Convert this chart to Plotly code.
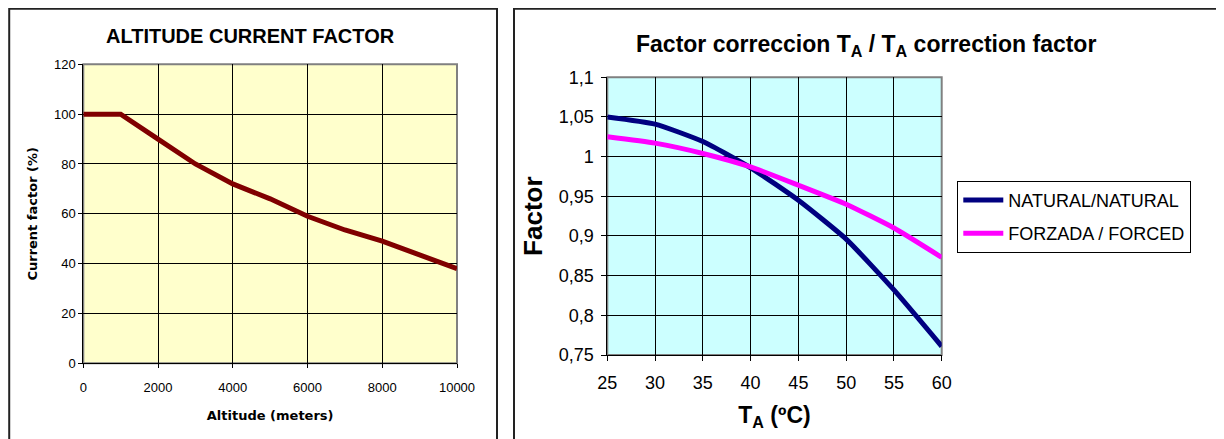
import plotly.graph_objects as go

# ---- data ----
altitude_m = [0, 1000, 2000, 3000, 4000, 5000, 6000, 7000, 8000, 9000, 10000]
current_factor_pct = [100, 100, 90, 80, 72, 66, 59, 53.5, 49, 43.5, 38]

temp_c = [25, 30, 35, 40, 45, 50, 55, 60]
factor_natural = [1.05, 1.041, 1.019, 0.986, 0.945, 0.896, 0.832, 0.761]
factor_forced = [1.025, 1.017, 1.004, 0.987, 0.964, 0.940, 0.910, 0.873]

# page offset of the figure (body margin) and figure size
OFF = 8
W, H = 1216, 431


def px(x):
    return (x - OFF) / W


def py(y):
    return 1 - (y - OFF) / H


fig = go.Figure()

fig.add_trace(go.Scatter(
    x=altitude_m, y=current_factor_pct, mode="lines",
    line=dict(color="#800000", width=5), showlegend=False,
    xaxis="x", yaxis="y", name="Current factor"))

fig.add_trace(go.Scatter(
    x=temp_c, y=factor_natural, mode="lines", name="NATURAL/NATURAL",
    legendgroup="nat",
    line=dict(color="#000080", width=5, shape="spline", smoothing=0.5),
    xaxis="x2", yaxis="y2"))
fig.add_trace(go.Scatter(
    x=temp_c, y=factor_forced, mode="lines", name="FORZADA / FORCED",
    legendgroup="for",
    line=dict(color="#FF00FF", width=5, shape="spline", smoothing=0.5),
    xaxis="x2", yaxis="y2"))

AR = "Arial, Liberation Sans, sans-serif"

common_axis = dict(showgrid=True, gridcolor="#000000", gridwidth=1,
                   showline=True, linecolor="#000000", linewidth=1,
                   ticks="outside", tickcolor="#000000", zeroline=False,
                   mirror=False, automargin=False)

fig.update_layout(
    width=W, height=H,
    margin=dict(l=0, r=0, t=0, b=0, autoexpand=False),
    paper_bgcolor="white", plot_bgcolor="rgba(0,0,0,0)",
    separators=",.",
    xaxis=dict(domain=[px(83.3), px(457)], anchor="y", range=[0, 10000],
               dtick=2000, tick0=0, tickformat="d", ticklen=4,
               tickfont=dict(family=AR, size=13, color="black"),
               ticklabelstandoff=8,
               title=dict(text="Altitude (meters)", standoff=16,
                          font=dict(family="DejaVu Sans, sans-serif", size=13,
                                    color="black", weight="bold")),
               **common_axis),
    yaxis=dict(domain=[py(363.3), py(64.3)], anchor="x", range=[0, 120],
               dtick=20, tick0=0, ticklen=4,
               tickfont=dict(family=AR, size=13, color="black"),
               title=dict(text="Current factor (%)", standoff=13,
                          font=dict(family="DejaVu Sans, sans-serif", size=13,
                                    color="black", weight="bold")),
               **common_axis),
    xaxis2=dict(domain=[px(607.3), px(941.7)], anchor="y2", range=[25, 60],
                dtick=5, tick0=25, ticklen=5,
                tickfont=dict(family=AR, size=18, color="black"),
                ticklabelstandoff=6,
                title=dict(text="T<sub>A</sub> (ºC)", standoff=15,
                           font=dict(family=AR, size=23, color="black",
                                     weight="bold")),
                **common_axis),
    yaxis2=dict(domain=[py(355), py(77.3)], anchor="x2", range=[0.75, 1.1],
                dtick=0.05, tick0=0.75, ticklen=5,
                tickfont=dict(family=AR, size=18, color="black"),
                ticklabelstandoff=4,
                title=dict(text="Factor", standoff=8,
                           font=dict(family=AR, size=26, color="black",
                                     weight="bold")),
                **common_axis),
    legend=dict(x=px(957.3), y=py(180.7), xanchor="left", yanchor="top",
                bgcolor="white", bordercolor="black", borderwidth=1,
                font=dict(family=AR, size=18, color="black"),
                itemwidth=40, tracegroupgap=7),
    annotations=[
        dict(text="<b>ALTITUDE CURRENT FACTOR</b>", x=px(250.5), y=py(36),
             xref="paper", yref="paper", xanchor="center", yanchor="middle",
             showarrow=False, font=dict(family=AR, size=20, color="black")),
        dict(text="<b>Factor correccion T<sub>A</sub> / T<sub>A</sub> correction factor</b>",
             x=px(866), y=py(46), xref="paper", yref="paper",
             xanchor="center", yanchor="middle", showarrow=False,
             font=dict(family=AR, size=23, color="black")),
    ],
    shapes=[
        # chart frames
        dict(type="rect", xref="paper", yref="paper", x0=0.001, x1=px(497),
             y0=-0.1, y1=0.998, line=dict(color="#222222", width=2),
             fillcolor="rgba(0,0,0,0)", layer="below"),
        dict(type="rect", xref="paper", yref="paper", x0=px(514), x1=1.1,
             y0=-0.1, y1=0.998, line=dict(color="#222222", width=2),
             fillcolor="rgba(0,0,0,0)", layer="below"),
        # plot area backgrounds
        dict(type="rect", xref="x domain", yref="y domain", x0=0, x1=1,
             y0=0, y1=1, fillcolor="#FFFFCC",
             line=dict(color="#808080", width=2), layer="below"),
        dict(type="rect", xref="x2 domain", yref="y2 domain", x0=0, x1=1,
             y0=0, y1=1, fillcolor="#CCFFFF",
             line=dict(color="#808080", width=2), layer="below"),
    ],
)

fig.write_html("out.html")
